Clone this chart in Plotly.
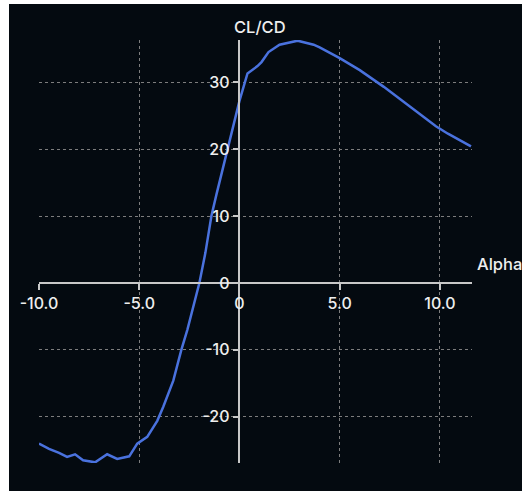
import plotly.graph_objects as go

# Lift-to-drag ratio against angle of attack
alpha = [-10.0, -9.5, -9.0, -8.6, -8.2, -7.8, -7.2, -6.6, -6.1, -5.5, -5.1, -4.6,
         -4.1, -3.8, -3.3, -2.9, -2.6, -2.0, -1.7, -1.4, -1.15, -0.75, -0.4, 0.0,
         0.4, 0.9, 1.1, 1.45, 2.0, 2.9, 3.7, 4.0, 5.0, 6.0, 7.2, 8.4, 9.8, 10.4, 11.55]
cl_cd = [-24.0, -24.8, -25.4, -26.0, -25.6, -26.5, -26.8, -25.6, -26.3, -25.9, -24.0, -23.0,
         -20.6, -18.5, -14.6, -10.0, -7.0, 0.0, 4.5, 10.0, 13.2, 18.1, 22.5, 27.2,
         31.3, 32.4, 33.0, 34.5, 35.6, 36.2, 35.6, 35.2, 33.6, 31.8, 29.3, 26.6, 23.4, 22.3, 20.4]

x_ticks = [-10, -5, 0, 5, 10]
x_labels = ["-10.0", "-5.0", "0", "5.0", "10.0"]
y_ticks = [-20, -10, 0, 10, 20, 30]
y_labels = ["-20", "-10", "0", "10", "20", "30"]

W, H = 522, 491
ML, MR, MT, MB = 39, 50, 40, 28
BG = "#040a10"
AXIS = "rgb(200,200,200)"
GRID = "rgb(125,125,125)"
TEXT = "rgb(238,238,238)"
FONT = "Inter, Liberation Sans, Arial, sans-serif"

x0, x1 = min(alpha), max(alpha) + 0.05
y0, y1 = min(cl_cd) - 0.1, max(cl_cd) + 0.1

fig = go.Figure()
fig.add_trace(go.Scatter(
    x=alpha, y=cl_cd, mode="lines",
    line=dict(color="rgb(74,114,222)", width=2.5),
    hoverinfo="x+y", showlegend=False,
))

axis_common = dict(
    showline=True, linecolor=AXIS, linewidth=1.5,
    ticks="outside", ticklen=6, tickcolor=AXIS, tickwidth=1.5,
    showgrid=True, gridcolor=GRID, gridwidth=1, griddash="dot",
    zeroline=False, tickfont=dict(family=FONT, size=16, color=TEXT, weight=500),
    anchor="free", fixedrange=True,
)

fig.update_xaxes(
    range=[x0, x1], tickvals=x_ticks, ticktext=x_labels,
    position=(0 - y0) / (y1 - y0), **axis_common,
)
fig.update_yaxes(
    range=[y0, y1], tickvals=y_ticks, ticktext=y_labels,
    position=(0 - x0) / (x1 - x0), **axis_common,
)

# Axis titles at the ends of the axes
fig.add_annotation(
    text="CL/CD", xref="x", x=0, yref="paper", y=1,
    xanchor="left", yanchor="bottom", xshift=-7, yshift=1,
    showarrow=False, font=dict(family=FONT, size=16.5, color=TEXT, weight=500),
)
fig.add_annotation(
    text="Alpha", xref="paper", x=1, yref="y", y=0,
    xanchor="left", yanchor="bottom", xshift=3, yshift=7,
    showarrow=False, font=dict(family=FONT, size=16.5, color=TEXT, weight=500),
)

# Light page strip along the top and left edges
pw = W - ML - MR
ph = H - MT - MB
fig.add_shape(type="rect", xref="paper", yref="paper", layer="below",
              x0=-(ML + 5) / pw, x1=-(ML - 9) / pw, y0=-1, y1=2,
              fillcolor="white", line=dict(width=0))
fig.add_shape(type="rect", xref="paper", yref="paper", layer="below",
              x0=-1, x1=2, y0=1 + (MT - 4) / ph, y1=1 + (MT + 5) / ph,
              fillcolor="white", line=dict(width=0))

fig.update_layout(
    width=W, height=H,
    margin=dict(l=ML, r=MR, t=MT, b=MB, pad=0),
    paper_bgcolor=BG, plot_bgcolor=BG,
    font=dict(family=FONT, color=TEXT),
)

fig.write_html("out.html", config={"displayModeBar": False})
